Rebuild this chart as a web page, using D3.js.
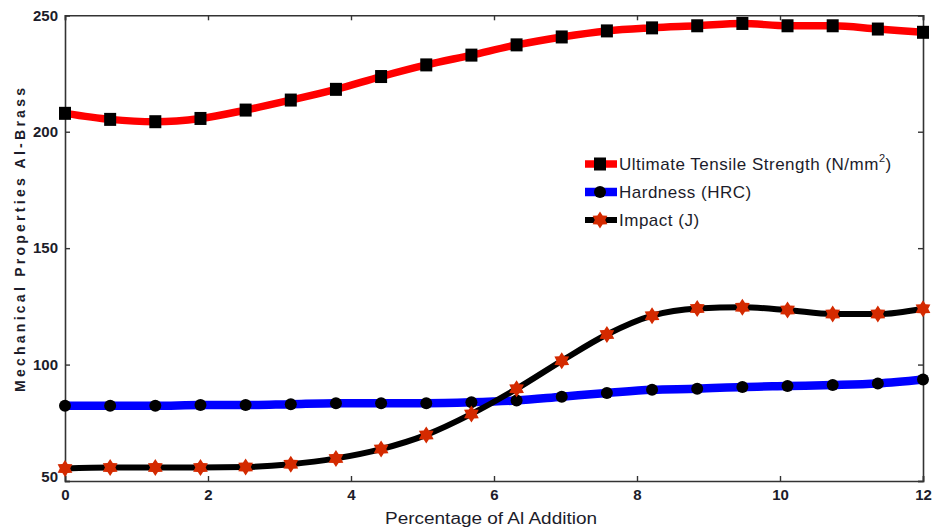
<!DOCTYPE html>
<html>
<head>
<meta charset="utf-8">
<script src="https://cdn.jsdelivr.net/npm/d3@7"></script>
<style>
  html, body { margin: 0; padding: 0; background: #fff; }
  svg { display: block; font-family: "Liberation Sans", Arial, sans-serif; }
</style>
</head>
<body>
<svg id="chart" width="935" height="531"></svg>
<script>
// ---- data ----
const xValues = d3.range(20).map(i => i * 12 / 19); // 20 sample points from 0 to 12 (marker positions)
const utsValues = [207.9, 205.3, 204.3, 205.7, 209.3, 213.6, 218.2, 223.7, 228.7, 232.9,
                   237.3, 240.7, 243.3, 244.6, 245.5, 246.5, 245.5, 245.5, 244.1, 242.7];
const hardnessValues = [82.3, 82.3, 82.3, 82.6, 82.6, 83.0, 83.4, 83.4, 83.4, 83.8,
                        84.6, 86.2, 87.8, 89.2, 89.6, 90.4, 90.8, 91.2, 91.9, 93.6];
const impactValues = [55.4, 55.8, 55.8, 55.8, 56.0, 57.2, 59.7, 63.7, 69.8, 78.8,
                      89.6, 101.6, 112.9, 121.0, 124.1, 124.6, 123.4, 121.7, 121.7, 124.0];
const xTicks = [0, 2, 4, 6, 8, 10, 12];
const yTicks = [50, 100, 150, 200, 250];
const seriesNames = ["Ultimate Tensile Strength (N/mm", "Hardness (HRC)", "Impact (J)"];

// ---- layout ----
const svg = d3.select("#chart");
const L = 65, R = 923, T = 15.3, B = 481;
const x = d3.scaleLinear().domain([0, 12]).range([L, R]);
const y = d3.scaleLinear().domain([50, 250]).range([B, T]);

// hexagram path
function hexagram(cx, cy, ro, ri) {
  const pts = [];
  for (let k = 0; k < 12; k++) {
    const a = -Math.PI / 2 + k * Math.PI / 6;
    const r = k % 2 === 0 ? ro : ri;
    pts.push([cx + r * Math.cos(a), cy + r * Math.sin(a)]);
  }
  return "M" + pts.map(p => p.join(",")).join("L") + "Z";
}

const series = [
  { name: "uts", values: utsValues, line: "#ff0000", width: 7.5, marker: "square", mfill: "#000" },
  { name: "hard", values: hardnessValues, line: "#0000ff", width: 8.5, marker: "circle", mfill: "#000" },
  { name: "imp", values: impactValues, line: "#000000", width: 6, marker: "star", mfill: "#d42a00" }
];

function drawMarker(g, type, cx, cy, fill) {
  if (type === "square") {
    g.append("rect").attr("x", cx - 6).attr("y", cy - 6.5).attr("width", 12).attr("height", 13).attr("fill", fill);
  } else if (type === "circle") {
    g.append("circle").attr("cx", cx).attr("cy", cy).attr("r", 6).attr("fill", fill);
  } else {
    g.append("path").attr("d", hexagram(cx, cy, 8.5, 5.2)).attr("fill", fill);
  }
}

// clip to axes box
svg.append("defs").append("clipPath").attr("id", "clip")
  .append("rect").attr("x", L - 10).attr("y", T - 10).attr("width", R - L + 20).attr("height", B - T + 20);

// axes box and ticks
const axB = svg.append("g").attr("transform", `translate(0,${B})`)
  .call(d3.axisBottom(x).tickValues(xTicks).tickSize(-5).tickPadding(8).tickFormat(d3.format("d")));
const axT = svg.append("g").attr("transform", `translate(0,${T})`)
  .call(d3.axisTop(x).tickValues(xTicks).tickSize(-5).tickFormat(""));
const axL = svg.append("g").attr("transform", `translate(${L},0)`)
  .call(d3.axisLeft(y).tickValues(yTicks).tickSize(-5).tickPadding(7).tickFormat(d3.format("d")));
const axR = svg.append("g").attr("transform", `translate(${R},0)`)
  .call(d3.axisRight(y).tickValues(yTicks).tickSize(-5).tickFormat(""));
[axB, axT, axL, axR].forEach(a => {
  a.select(".domain").attr("stroke", "#333").attr("stroke-width", 1.6);
  a.selectAll(".tick line").attr("stroke", "#333").attr("stroke-width", 1.4);
  a.selectAll(".tick text").attr("fill", "#1c1c2a").attr("font-size", 15).attr("font-weight", "bold")
    .attr("font-family", "Liberation Sans, Arial, sans-serif");
});
axL.selectAll(".tick text").attr("dy", "0.32em");
axL.selectAll(".tick").filter(d => d === 50).select("text").attr("dy", "0.05em");

// lines
const plot = svg.append("g").attr("clip-path", "url(#clip)");
series.forEach(s => {
  const line = d3.line().x((d, i) => x(xValues[i])).y(d => y(d)).curve(d3.curveMonotoneX);
  plot.append("path").datum(s.values).attr("d", line)
    .attr("fill", "none").attr("stroke", s.line).attr("stroke-width", s.width)
    .attr("stroke-linejoin", "round");
  const mg = plot.append("g");
  s.values.forEach((v, i) => drawMarker(mg, s.marker, x(xValues[i]), y(v), s.mfill));
});

// legend
const leg = svg.append("g");
const legRows = [164, 192, 220];
series.forEach((s, i) => {
  const cy = legRows[i];
  leg.append("line").attr("x1", 585).attr("x2", 617).attr("y1", cy).attr("y2", cy)
    .attr("stroke", s.line).attr("stroke-width", s.width);
  drawMarker(leg, s.marker, 600, cy, s.mfill);
  const t = leg.append("text").attr("x", 619).attr("y", cy + 6)
    .attr("font-size", 17).attr("letter-spacing", 0.5).attr("fill", "#1c1c2a").text(seriesNames[i]);
  if (i === 0) {
    t.append("tspan").attr("font-size", 11).attr("dy", -8).text("2");
    t.append("tspan").attr("dy", 8).text(")");
  }
});

// axis titles
svg.append("text").attr("x", 491).attr("y", 524).attr("text-anchor", "middle")
  .attr("font-size", 16).attr("fill", "#1c1c2a")
  .attr("textLength", 212).attr("lengthAdjust", "spacingAndGlyphs")
  .text("Percentage of Al Addition");
svg.append("text").attr("transform", "translate(25,240) rotate(-90)").attr("text-anchor", "middle")
  .attr("font-size", 14).attr("font-weight", "bold").attr("fill", "#1c1c2a")
  .attr("textLength", 304).attr("lengthAdjust", "spacing")
  .text("Mechanical Properties Al-Brass");
</script>
</body>
</html>
